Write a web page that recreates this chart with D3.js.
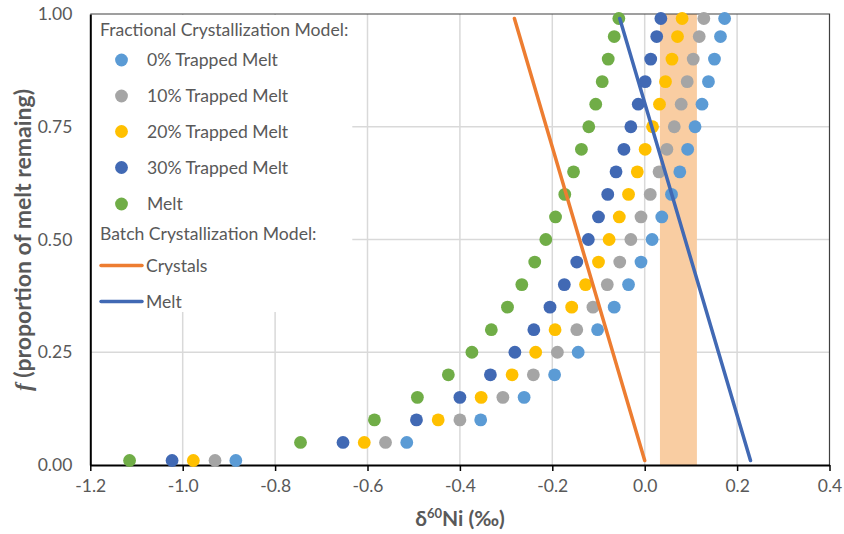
<!DOCTYPE html>
<html>
<head>
<meta charset="utf-8">
<script src="https://cdn.jsdelivr.net/npm/d3@7"></script>
<style>
  body { margin: 0; background: #fff; }
  svg { font-family: Lato, "Open Sans", sans-serif; }
</style>
</head>
<body>
<svg id="chart" width="844" height="534"></svg>
<script>
// f values, one per row of dots (top to bottom)
var fValues = [0.99, 0.95, 0.90, 0.85, 0.80, 0.75, 0.70, 0.65, 0.60, 0.55, 0.50,
               0.45, 0.40, 0.35, 0.30, 0.25, 0.20, 0.15, 0.10, 0.05, 0.01];

// fractional crystallization model, d60Ni per f
var trapped0  = [0.173, 0.164, 0.151, 0.138, 0.124, 0.109, 0.093, 0.076, 0.058, 0.037, 0.016,
                 -0.008, -0.035, -0.066, -0.102, -0.144, -0.195, -0.261, -0.355, -0.515, -0.885];
var trapped10 = [0.128, 0.118, 0.105, 0.092, 0.079, 0.064, 0.048, 0.031, 0.012, -0.008, -0.030,
                 -0.054, -0.081, -0.112, -0.147, -0.189, -0.241, -0.307, -0.400, -0.561, -0.930];
var trapped20 = [0.081, 0.071, 0.059, 0.045, 0.032, 0.017, 0.001, -0.016, -0.035, -0.055, -0.077,
                 -0.100, -0.128, -0.158, -0.194, -0.236, -0.287, -0.354, -0.447, -0.607, -0.977];
var trapped30 = [0.035, 0.026, 0.013, 0.001, -0.014, -0.030, -0.045, -0.062, -0.080, -0.100, -0.122,
                 -0.147, -0.174, -0.205, -0.240, -0.281, -0.334, -0.400, -0.494, -0.653, -1.023];
var fracMelt  = [-0.056, -0.066, -0.079, -0.092, -0.106, -0.121, -0.137, -0.154, -0.173, -0.193, -0.214,
                 -0.238, -0.266, -0.297, -0.332, -0.374, -0.425, -0.492, -0.585, -0.745, -1.115];

// batch crystallization model (straight lines)
var batchF        = [0.99, 0.01];
var batchCrystals = [-0.282, 0.000];
var batchMelt     = [-0.054, 0.229];

// shaded range
var bandRange = [0.033, 0.113];

var xTicks = [-1.2, -1.0, -0.8, -0.6, -0.4, -0.2, 0.0, 0.2, 0.4];
var yTicks = [0, 0.25, 0.5, 0.75, 1.0];

var svg = d3.select("#chart");

// note: "top" clashes with window.top, so use plot* names
var plotL = 90.3, plotR = 829.5, plotT = 14, plotB = 465;
var x = d3.scaleLinear().domain([-1.2, 0.4]).range([plotL, plotR]);
var y = d3.scaleLinear().domain([0, 1]).range([plotB, plotT]);

var textColor = "#595959";
var gridColor = "#d9d9d9";

// gridlines
svg.append("g").selectAll("line")
  .data(xTicks.slice(1, -1))
  .enter().append("line")
  .attr("x1", function(d) { return x(d); })
  .attr("x2", function(d) { return x(d); })
  .attr("y1", plotT).attr("y2", plotB)
  .attr("stroke", gridColor).attr("stroke-width", 1.5);

svg.append("g").selectAll("line")
  .data(yTicks.slice(1, -1))
  .enter().append("line")
  .attr("x1", plotL).attr("x2", plotR)
  .attr("y1", function(d) { return y(d); })
  .attr("y2", function(d) { return y(d); })
  .attr("stroke", gridColor).attr("stroke-width", 1.5);

// shaded band
svg.append("rect")
  .attr("x", x(bandRange[0]))
  .attr("width", x(bandRange[1]) - x(bandRange[0]))
  .attr("y", plotT).attr("height", plotB - plotT)
  .attr("fill", "#f9cda2");

// frame top / right
svg.append("path")
  .attr("d", "M" + plotL + "," + plotT + "H" + plotR + "V" + plotB)
  .attr("fill", "none").attr("stroke", "#404040").attr("stroke-width", 1.2);

// legend box (hides the gridlines behind it)
svg.append("rect")
  .attr("x", plotL + 1).attr("y", plotT + 1)
  .attr("width", 261).attr("height", 297)
  .attr("fill", "#fff");

// axes
var xAxis = d3.axisBottom(x).tickValues(xTicks).tickSize(6).tickSizeOuter(0)
  .tickFormat(function(d) { return d3.format(".1f")(d).replace("−", "-"); });
var gx = svg.append("g").attr("transform", "translate(0," + plotB + ")").call(xAxis);
gx.select(".domain").attr("stroke", "#000").attr("stroke-width", 2);
gx.selectAll(".tick line").attr("stroke", "#000").attr("stroke-width", 1.5);
gx.selectAll("text").attr("fill", textColor).attr("font-size", 17.5)
  .attr("dy", "1.05em");

var yAxis = d3.axisLeft(y).tickValues(yTicks).tickSize(0).tickPadding(18)
  .tickFormat(d3.format(".2f"));
var gy = svg.append("g").attr("transform", "translate(" + plotL + ",0)").call(yAxis);
gy.select(".domain").attr("stroke", "#000").attr("stroke-width", 2);
gy.selectAll("text").attr("fill", textColor).attr("font-size", 17.5);
svg.selectAll(".domain").attr("fill", "none");
gx.attr("font-family", null);
gy.attr("font-family", null);

// scatter series
var series = [
  { name: "0% Trapped Melt",  values: trapped0,  color: "#5b9bd5" },
  { name: "10% Trapped Melt", values: trapped10, color: "#a5a5a5" },
  { name: "20% Trapped Melt", values: trapped20, color: "#ffc000" },
  { name: "30% Trapped Melt", values: trapped30, color: "#4169b4" },
  { name: "Melt",             values: fracMelt,  color: "#70ad47" }
];

series.forEach(function(s) {
  svg.append("g").selectAll("circle")
    .data(s.values)
    .enter().append("circle")
    .attr("cx", function(d) { return x(d); })
    .attr("cy", function(d, i) { return y(fValues[i]); })
    .attr("r", 6.4)
    .attr("fill", s.color);
});

// batch lines
var lines = [
  { name: "Crystals", values: batchCrystals, color: "#ed7d31" },
  { name: "Melt",     values: batchMelt,     color: "#4169b4" }
];
var lineGen = d3.line()
  .x(function(d) { return x(d[0]); })
  .y(function(d) { return y(d[1]); });

lines.forEach(function(l) {
  svg.append("path")
    .datum(l.values.map(function(v, i) { return [v, batchF[i]]; }))
    .attr("d", lineGen)
    .attr("fill", "none")
    .attr("stroke", l.color)
    .attr("stroke-width", 3.5)
    .attr("stroke-linecap", "round");
});

// legend
var leg = svg.append("g").attr("fill", textColor).attr("font-size", 17.6);
leg.append("text").attr("x", 100).attr("y", 30).attr("dy", "0.35em")
  .text("Fractional Crystallization Model:");
var legRows = [60, 96, 131.5, 167.5, 204];
series.forEach(function(s, i) {
  leg.append("circle").attr("cx", 121.5).attr("cy", legRows[i]).attr("r", 6.4).attr("fill", s.color);
  leg.append("text").attr("x", 147).attr("y", legRows[i]).attr("dy", "0.35em").text(s.name);
});
leg.append("text").attr("x", 100).attr("y", 233.5).attr("dy", "0.35em")
  .text("Batch Crystallization Model:");
var lineRows = [265.5, 301.5];
lines.forEach(function(l, i) {
  leg.append("line").attr("x1", 101).attr("x2", 142)
    .attr("y1", lineRows[i]).attr("y2", lineRows[i])
    .attr("stroke", l.color).attr("stroke-width", 3.5).attr("stroke-linecap", "round");
  leg.append("text").attr("x", 146).attr("y", lineRows[i]).attr("dy", "0.35em").text(l.name);
});

// axis titles
var xt = svg.append("text")
  .attr("x", 460).attr("y", 526)
  .attr("text-anchor", "middle")
  .attr("font-size", 21).attr("font-weight", "bold").attr("fill", textColor);
xt.append("tspan").text("δ");
xt.append("tspan").attr("font-size", 13).attr("dy", -8).text("60");
xt.append("tspan").attr("dy", 8).text("Ni (‰)");

var yt = svg.append("text")
  .attr("transform", "translate(31,240) rotate(-90)")
  .attr("text-anchor", "middle")
  .attr("font-size", 23).attr("font-weight", "bold").attr("fill", textColor);
yt.append("tspan").attr("font-style", "italic").attr("font-family", "'Liberation Serif', serif").text("f");
yt.append("tspan").text(" (proportion of melt remaing)");
</script>
</body>
</html>
